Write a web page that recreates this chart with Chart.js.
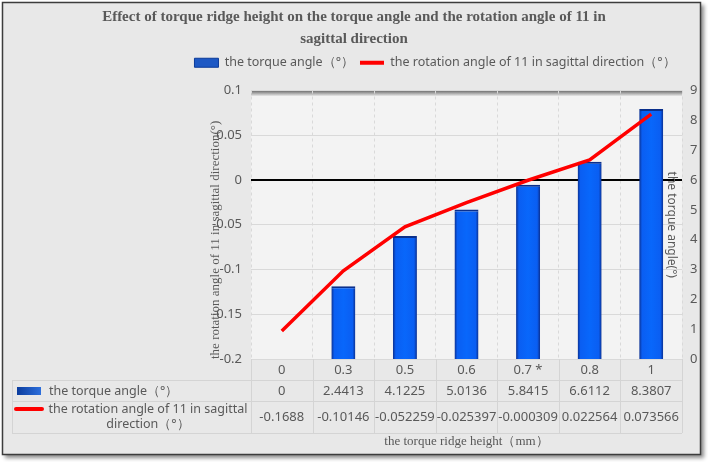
<!DOCTYPE html>
<html>
<head>
<meta charset="utf-8">
<title>Torque ridge height</title>
<script src="https://cdn.jsdelivr.net/npm/chart.js@4.4.1/dist/chart.umd.min.js"></script>
<style>
    html, body { margin: 0; padding: 0; background: #ffffff; }
    canvas { display: block; }
</style>
</head>
<body>
<canvas id="diagramm" width="708" height="462"></canvas>
<script>
// Andmed (loetud jooniselt)
const korgused = ['0', '0.3', '0.5', '0.6', '0.7 *', '0.8', '1'];
const vaandenurk = [0, 2.4413, 4.1225, 5.0136, 5.8415, 6.6112, 8.3807];
const poordenurk = [-0.1688, -0.10146, -0.052259, -0.025397, -0.000309, 0.022564, 0.073566];
const vasakTelg = [-0.2, 0.1, 0.05]; // min, max, samm
const paremTelg = [0, 9, 1];

// Tekstid
const pealkiri = ['Effect of torque ridge height on the torque angle and the rotation angle of 11 in', 'sagittal direction'];
const seeriaNimed = ['the torque angle（°）', 'the rotation angle of 11 in sagittal direction（°）'];
const xNimi = 'the torque ridge height（mm）';
const vasakNimi = 'the rotation angle of 11 in sagittal direction(°)';
const paremNimi = 'the torque angle(°)';

const hall = '#595959';
const font = '"Noto Sans", sans-serif';
const serif = '"Liberation Serif", serif';
const tulbaLaius = 0.39;

Chart.defaults.font.family = font;
Chart.defaults.font.size = 13;
Chart.defaults.color = hall;

// Tulba gradient (tumedad servad, hele keskosa)
function tulbaVarv(c) {
    const chart = c.chart;
    const x = chart.scales.x;
    if (!chart.chartArea || !x || c.type !== 'data') return '#0a62f6';
    const kesk = x.getPixelForValue(c.dataIndex);
    const w = x.width / korgused.length * tulbaLaius;
    const g = chart.ctx.createLinearGradient(kesk - w / 2, 0, kesk + w / 2, 0);
    g.addColorStop(0, '#0b2f8f');
    g.addColorStop(0.12, '#0a5ef2');
    g.addColorStop(0.5, '#0867fb');
    g.addColorStop(0.88, '#0a5ef2');
    g.addColorStop(1, '#0b2f8f');
    return g;
}

// Raam ja joonisala taust
const raam = {
    id: 'raam',
    beforeDraw(chart) {
        const { ctx, chartArea: a, width, height } = chart;
        ctx.save();
        ctx.fillStyle = '#ffffff';
        ctx.fillRect(0, 0, width, height);
        ctx.shadowColor = 'rgba(0,0,0,0.45)';
        ctx.shadowBlur = 4;
        ctx.shadowOffsetX = 3;
        ctx.shadowOffsetY = 3;
        ctx.fillStyle = '#e8e8e8';
        ctx.fillRect(2, 2, 699, 453);
        ctx.shadowColor = 'transparent';
        ctx.strokeStyle = '#3c3c3c';
        ctx.lineWidth = 1.5;
        ctx.strokeRect(2.5, 2.5, 698, 452);
        ctx.fillStyle = '#f3f3f3';
        ctx.fillRect(a.left, a.top, a.width, a.height);
        const g = ctx.createLinearGradient(0, a.top, 0, a.top + 6);
        g.addColorStop(0, 'rgba(80,80,80,0.85)');
        g.addColorStop(1, 'rgba(80,80,80,0)');
        ctx.fillStyle = g;
        ctx.fillRect(a.left, a.top, a.width, 6);
        ctx.restore();
    }
};

// Legend nihutatakse paremale ja ülespoole
const legendiNihe = {
    id: 'legendiNihe',
    afterLayout(chart) {
        const l = chart.legend;
        if (!l) return;
        l.left += 81; l.right += 81;
        l.top -= 11.5; l.bottom -= 11.5;
    }
};

// Andmetabel x-telje all
const tabel = {
    id: 'tabel',
    afterDraw(chart) {
        const { ctx, chartArea: a } = chart;
        const x = chart.scales.x;
        const n = korgused.length;
        const samm = a.width / n;
        const y0 = a.bottom, y1 = y0 + 21, y2 = y1 + 21, y3 = y2 + 32;
        const vasak = 12;
        ctx.save();
        ctx.strokeStyle = '#d4d4d4';
        ctx.lineWidth = 1;
        ctx.beginPath();
        for (let i = 0; i <= n; i++) {
            const px = Math.round(a.left + i * samm) + 0.5;
            ctx.moveTo(px, y0);
            ctx.lineTo(px, y3);
        }
        ctx.moveTo(vasak + 0.5, y1);
        ctx.lineTo(vasak + 0.5, y3);
        for (const y of [y1, y2, y3]) {
            ctx.moveTo(vasak, y + 0.5);
            ctx.lineTo(a.right, y + 0.5);
        }
        ctx.stroke();

        ctx.font = '13px ' + font;
        ctx.fillStyle = hall;
        ctx.textAlign = 'center';
        ctx.textBaseline = 'middle';
        const r1 = (y1 + y2) / 2 + 0.5;
        const r2 = (y2 + y3) / 2;
        vaandenurk.forEach((v, i) => ctx.fillText(String(v), x.getPixelForValue(i), r1));
        poordenurk.forEach((v, i) => ctx.fillText(String(v), x.getPixelForValue(i), r2));

        // Reapäised koos legendimärkidega
        const g = ctx.createLinearGradient(17, 0, 41, 0);
        g.addColorStop(0, '#0c3d9e');
        g.addColorStop(1, '#2d6fdc');
        ctx.fillStyle = g;
        ctx.fillRect(17, r1 - 4, 24, 8);
        ctx.strokeStyle = '#ff0000';
        ctx.lineWidth = 4;
        ctx.lineCap = 'round';
        ctx.beginPath();
        ctx.moveTo(16, r2 - 8);
        ctx.lineTo(42, r2 - 8);
        ctx.stroke();

        ctx.font = '12.5px ' + font;
        ctx.fillStyle = hall;
        ctx.textAlign = 'left';
        ctx.fillText(seeriaNimed[0], 49, r1);
        const read = murra(ctx, seeriaNimed[1], 204);
        ctx.textAlign = 'center';
        read.forEach((rida, i) => ctx.fillText(rida, 148, r2 - 8 + i * 15.5));
        ctx.restore();
    }
};

// Teksti murdmine ridadeks
function murra(ctx, tekst, max) {
    const sonad = tekst.split(' ');
    const read = [];
    let rida = '';
    for (const s of sonad) {
        const proov = rida ? rida + ' ' + s : s;
        if (rida && ctx.measureText(proov).width > max) {
            read.push(rida);
            rida = s;
        } else {
            rida = proov;
        }
    }
    read.push(rida);
    return read;
}

new Chart(document.getElementById('diagramm'), {
    type: 'bar',
    data: {
        labels: korgused,
        datasets: [{
            type: 'bar',
            label: seeriaNimed[0],
            data: vaandenurk,
            yAxisID: 'y1',
            order: 2,
            backgroundColor: tulbaVarv,
            borderColor: '#0a2f8c',
            borderWidth: { top: 2, left: 0, right: 0, bottom: 0 },
            borderSkipped: 'start',
            barPercentage: tulbaLaius,
            categoryPercentage: 1
        }, {
            type: 'line',
            label: seeriaNimed[1],
            data: poordenurk,
            yAxisID: 'y',
            order: 1,
            borderColor: '#ff0000',
            backgroundColor: '#ff0000',
            borderWidth: 3.5,
            pointRadius: 0,
            tension: 0,
            fill: false
        }]
    },
    options: {
        responsive: false,
        animation: false,
        devicePixelRatio: 1,
        layout: { padding: 0 },
        plugins: {
            title: {
                display: true,
                text: pealkiri,
                color: hall,
                font: { family: serif, size: 15, weight: 'bold', lineHeight: '22px' },
                padding: { top: 6, bottom: 12 }
            },
            legend: {
                display: true,
                position: 'top',
                labels: {
                    usePointStyle: true,
                    pointStyleWidth: 24,
                    boxHeight: 9,
                    padding: 6,
                    font: { size: 12.5 },
                    generateLabels: () => [{
                        text: seeriaNimed[0], datasetIndex: 0, pointStyle: 'rect',
                        fillStyle: '#1d58c4', strokeStyle: '#0b3a99', lineWidth: 1, fontColor: hall, hidden: false
                    }, {
                        text: seeriaNimed[1], datasetIndex: 1, pointStyle: 'line',
                        fillStyle: '#ff0000', strokeStyle: '#ff0000', lineWidth: 4, fontColor: hall, hidden: false
                    }]
                }
            },
            tooltip: { enabled: false }
        },
        scales: {
            x: {
                grid: { color: '#d9d9d9', drawTicks: false },
                border: { display: false, dash: [3, 3] },
                ticks: { padding: 3, color: hall, font: { size: 13 }, maxRotation: 0, autoSkip: false },
                title: { display: true, text: xNimi, color: hall, font: { family: serif, size: 13 }, padding: { top: 0, bottom: 13 } },
                afterFit: (s) => { s.height = 103; }
            },
            y: {
                position: 'left',
                min: vasakTelg[0],
                max: vasakTelg[1],
                ticks: {
                    stepSize: vasakTelg[2],
                    padding: 9,
                    color: hall,
                    callback: (v) => String(Math.round(v * 100) / 100)
                },
                grid: {
                    drawTicks: false,
                    color: (c) => Math.abs(c.tick.value) < 1e-9 ? '#000000' : '#d9d9d9',
                    lineWidth: (c) => Math.abs(c.tick.value) < 1e-9 ? 2 : 1
                },
                border: { display: false },
                title: { display: true, text: vasakNimi, align: 'start', color: hall, font: { family: serif, size: 13 }, padding: { top: 208, bottom: 0 } },
                afterFit: (s) => { s.width = 251; }
            },
            y1: {
                position: 'right',
                min: paremTelg[0],
                max: paremTelg[1],
                ticks: { stepSize: paremTelg[2], padding: 8, color: hall },
                grid: { display: false, drawTicks: false },
                border: { display: false },
                title: { display: true, text: paremNimi, color: hall, font: { size: 12 }, padding: { top: 29, bottom: 0 } },
                afterFit: (s) => { s.width = 26; }
            }
        }
    },
    plugins: [raam, legendiNihe, tabel]
});
</script>
</body>
</html>
